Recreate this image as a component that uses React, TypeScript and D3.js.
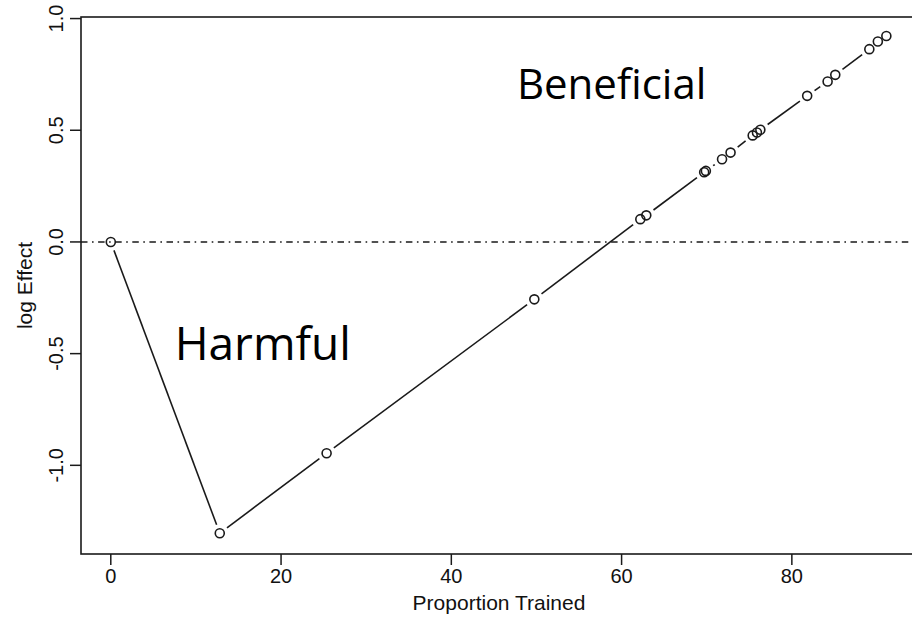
import React from "react";
import * as d3 from "d3";

const proportionTrained = [0, 12.8, 25.35, 49.75, 62.2, 62.9, 69.7, 69.9, 71.8, 72.8, 75.4, 75.9, 76.3, 81.8, 84.2, 85.1, 89.1, 90.1, 91.1];
const logEffect = [0, -1.304, -0.946, -0.257, 0.102, 0.119, 0.312, 0.318, 0.37, 0.4, 0.477, 0.49, 0.502, 0.654, 0.718, 0.748, 0.863, 0.897, 0.922];
const xTicks = [0, 20, 40, 60, 80];
const yTicks = [-1.0, -0.5, 0.0, 0.5, 1.0];
const yTickLabels = ["-1.0", "-0.5", "0.0", "0.5", "1.0"];
const xLabel = "Proportion Trained";
const yLabel = "log Effect";
const annotations = [
  { text: "Beneficial", px: 47.7, py: 0.64, size: 42 },
  { text: "Harmful", px: 7.5, py: -0.53, size: 46 },
];

const W = 912;
const H = 619;
const L = 81, R = 917, T = 17, B = 554;

export default function App() {
  const x = d3.scaleLinear().domain([-3.5, 94.7]).range([L, R]);
  const y = d3.scaleLinear().domain([-1.397, 1.007]).range([B, T]);
  const pts = proportionTrained.map((v, i) => [x(v), y(logEffect[i])] as [number, number]);
  const gap = 9;
  const segs: [number, number, number, number][] = [];
  for (let i = 0; i < pts.length - 1; i++) {
    const [x1, y1] = pts[i];
    const [x2, y2] = pts[i + 1];
    const dx = x2 - x1, dy = y2 - y1;
    const d = Math.hypot(dx, dy);
    if (d > 2 * gap + 0.5) {
      const ux = dx / d, uy = dy / d;
      segs.push([x1 + ux * gap, y1 + uy * gap, x2 - ux * gap, y2 - uy * gap]);
    }
  }
  const axisFont = "'Liberation Sans', Arial, sans-serif";
  const ink = "#1a1a1a";
  return (
    <svg width={W} height={H} style={{ position: "absolute", left: 0, top: 0, display: "block", background: "#fff" }}>
      <rect x={0} y={0} width={W} height={H} fill="#fff" />
      <line x1={L} x2={R} y1={y(0)} y2={y(0)} stroke={ink} strokeWidth={1.5} strokeDasharray="6.5 4.5 1.6 4.5" />
      {segs.map((s, i) => (
        <line key={i} x1={s[0]} y1={s[1]} x2={s[2]} y2={s[3]} stroke={ink} strokeWidth={1.6} />
      ))}
      {pts.map((p, i) => (
        <circle key={i} cx={p[0]} cy={p[1]} r={4.5} fill="none" stroke={ink} strokeWidth={1.6} />
      ))}
      <rect x={L} y={T} width={R - L} height={B - T} fill="none" stroke={ink} strokeWidth={1.6} />
      {xTicks.map((t) => (
        <g key={t}>
          <line x1={x(t)} x2={x(t)} y1={B} y2={B + 11} stroke={ink} strokeWidth={1.5} />
          <text x={x(t)} y={583} textAnchor="middle" fontFamily={axisFont} fontSize={20} fill="#111">{t}</text>
        </g>
      ))}
      <text x={(L + R) / 2} y={610} textAnchor="middle" fontFamily={axisFont} fontSize={21} fill="#111">{xLabel}</text>
      {yTicks.map((t, i) => (
        <g key={t}>
          <line x1={L - 11} x2={L} y1={y(t)} y2={y(t)} stroke={ink} strokeWidth={1.5} />
          <text transform={`translate(62.5,${y(t)}) rotate(-90)`} textAnchor="middle" fontFamily={axisFont} fontSize={20} fill="#111">{yTickLabels[i]}</text>
        </g>
      ))}
      <text transform={`translate(32,${(T + B) / 2}) rotate(-90)`} textAnchor="middle" fontFamily={axisFont} fontSize={21} fill="#111">{yLabel}</text>
      {annotations.map((a) => (
        <text key={a.text} x={x(a.px)} y={y(a.py)} fontFamily="'Open Sans', sans-serif" fontSize={a.size} fill="#000">{a.text}</text>
      ))}
    </svg>
  );
}
